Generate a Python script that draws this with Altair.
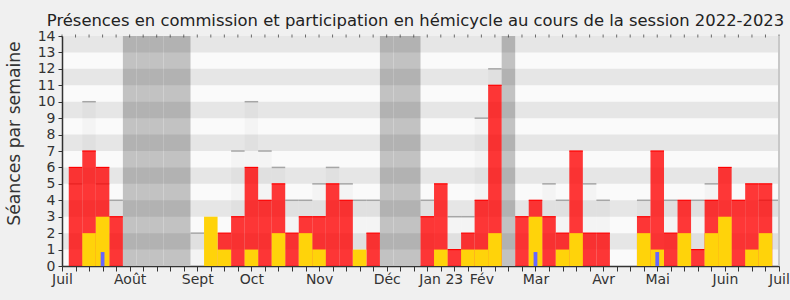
import altair as alt
import pandas as pd

# ---- data (weekly, session 2022-2023) ----
weeks = list(range(53))
red = [6, 7, 6, 3, 0, 0, 0, 0, 0, 0, 0, 2, 3, 6, 4, 5, 2, 3, 3, 5, 4, 0, 2, 0, 0, 0,
       3, 5, 1, 2, 4, 11, 0, 3, 4, 3, 2, 7, 2, 2, 0, 0, 3, 7, 2, 4, 1, 4, 6, 4, 5, 5, 0]
yellow = [0, 2, 3, 0, 0, 0, 0, 0, 0, 0, 3, 1, 0, 1, 0, 2, 0, 2, 1, 0, 0, 1, 0, 0, 0, 0,
          0, 1, 0, 1, 1, 2, 0, 0, 3, 0, 1, 2, 0, 0, 0, 0, 2, 1, 0, 2, 0, 2, 3, 0, 1, 2, 0]
grey = [5, 10, 5, 4, 0, 0, 0, 0, 0, 2, 0, 0, 7, 10, 7, 6, 4, 4, 5, 6, 5, 4, 4, 0, 0, 0,
        4, 0, 3, 3, 9, 12, 0, 0, 0, 5, 4, 0, 5, 4, 0, 0, 4, 0, 4, 0, 4, 5, 0, 0, 0, 4, 4]
blue_weeks = [2, 34, 43]
blue_values = [0.85, 0.85, 0.85]
vacation_weeks = [4, 5, 6, 7, 8, 23, 24, 25, 32]
label_weeks = [-1, 4, 9, 13, 18, 23, 27, 30, 34, 39, 43, 48, 52]
label_texts = ["Juil", "Août", "Sept", "Oct", "Nov", "Déc", "Jan 23", "Fév",
               "Mar", "Avr", "Mai", "Juin", "Juil"]
band_lows = [1, 3, 5, 7, 9, 11, 13]
y_max = 14

FONT = "DejaVu Sans"
x_lo, x_hi = weeks[0] - 1, weeks[-1]

df = pd.DataFrame({"week": weeks, "red": red, "yellow": yellow, "grey": grey})
vac = pd.DataFrame({"week": vacation_weeks})
blue_df = pd.DataFrame({"week": blue_weeks, "blue": blue_values})
bands = pd.DataFrame({"lo": band_lows})
bands["hi"] = bands["lo"] + 1
bands["x0"] = x_lo
bands["x1"] = x_hi
ticks_df = pd.DataFrame({"week": list(range(x_lo, x_hi + 1))})

label_map = "{" + ",".join(f'"{w}":"{t}"' for w, t in zip(label_weeks, label_texts)) + "}"

xscale = alt.Scale(domain=[x_lo, x_hi], nice=False, zero=False)
yscale = alt.Scale(domain=[0, y_max], nice=False, zero=True)

xaxis = alt.Axis(
    values=list(range(x_lo, x_hi + 1)),
    labelExpr=f"({label_map})[''+datum.value] || ''",
    labelOverlap=False, labelFont=FONT, labelFontSize=14, labelColor="#333",
    domainColor="#333", domainWidth=1.5, tickColor="#333", tickSize=5,
    labelPadding=1, grid=False, title=None, labelFlush=False,
)
yaxis = alt.Axis(
    values=list(range(0, y_max + 1)), labelFont=FONT, labelFontSize=14,
    labelOverlap=False, labelFlush=False,
    labelColor="#333", domainColor="#333", domainWidth=1.5, tickColor="#333",
    tickSize=4, labelPadding=3, grid=False, title="Séances par semaine",
    titleFont=FONT, titleFontSize=17.2, titleFontWeight="normal", titleColor="#333",
    titlePadding=14, titleY=97,
)

def X(field):
    return alt.X(field, type="quantitative", scale=xscale, axis=xaxis)

def Y(field):
    return alt.Y(field, type="quantitative", scale=yscale, axis=yaxis)

bar_x = dict(x0="datum.week - 0.5", x1="datum.week + 0.5")

vac_layer = alt.Chart(vac).transform_calculate(**bar_x, y0="0", y1=str(y_max)).mark_rect(
    color="#c2c2c2").encode(x=X("x0"), x2="x1", y=Y("y0"), y2="y1")

band_layer = alt.Chart(bands).mark_rect(color="#000000", opacity=0.08).encode(
    x=X("x0"), x2="x1", y=Y("lo"), y2="hi")

grey_bars = alt.Chart(df).transform_filter("datum.grey > 0").transform_calculate(
    **bar_x).mark_rect(color="#000000", opacity=0.025, clip=True).encode(
    x=X("x0"), x2="x1", y=Y("grey"), y2=alt.datum(0))

grey_lines = alt.Chart(df).transform_filter("datum.grey > 0").transform_calculate(
    **bar_x).mark_rule(color="#a6a6a6", strokeWidth=1.5, clip=True).encode(
    x=X("x0"), x2="x1", y=Y("grey"))

red_bars = alt.Chart(df).transform_filter("datum.red > 0").transform_calculate(
    **bar_x).mark_rect(color="#ff0000", opacity=0.78, clip=True).encode(
    x=X("x0"), x2="x1", y=Y("red"), y2=alt.datum(0))

red_lines = alt.Chart(df).transform_filter("datum.red > 0").transform_calculate(
    **bar_x).mark_rule(color="#ff0000", strokeWidth=1.2, clip=True).encode(
    x=X("x0"), x2="x1", y=Y("red"))

yellow_bars = alt.Chart(df).transform_filter("datum.yellow > 0").transform_calculate(
    **bar_x).mark_rect(color="#ffd30a", clip=True).encode(
    x=X("x0"), x2="x1", y=Y("yellow"), y2=alt.datum(0))

blue_bars = alt.Chart(blue_df).transform_calculate(
    x0="datum.week - 0.14", x1="datum.week + 0.14").mark_rect(color="#6666ff").encode(
    x=X("x0"), x2="x1", y=Y("blue"), y2=alt.datum(0))

top_ticks = alt.Chart(ticks_df).transform_calculate(top=str(y_max)).mark_tick(
    orient="vertical", size=3, thickness=1, color="#333").encode(x=X("week"), y=Y("top"))

right_border = alt.Chart(pd.DataFrame({"xr": [x_hi], "y0": [0], "y1": [y_max]})).mark_rule(
    color="#c8c8c8", strokeWidth=2).encode(x=X("xr"), y=Y("y0"), y2="y1")

chart = alt.layer(
    vac_layer, band_layer, grey_bars, grey_lines, red_bars, red_lines,
    yellow_bars, blue_bars, top_ticks, right_border,
).properties(
    width=717, height=230,
    title=alt.TitleParams(
        "Présences en commission et participation en hémicycle au cours de la session 2022-2023",
        font=FONT, fontSize=16.4, fontWeight="normal", color="#222", anchor="middle",
        baseline="alphabetic", offset=12, dx=-5, dy=25),
    autosize=alt.AutoSizeParams(type="none"),
    padding={"left": 62, "top": 36, "right": 11, "bottom": 34},
    background="#f0f0f0",
).configure_view(fill="#fafafa", stroke=None)

chart.save("out.html", embed_options={"renderer": "svg", "actions": False})
